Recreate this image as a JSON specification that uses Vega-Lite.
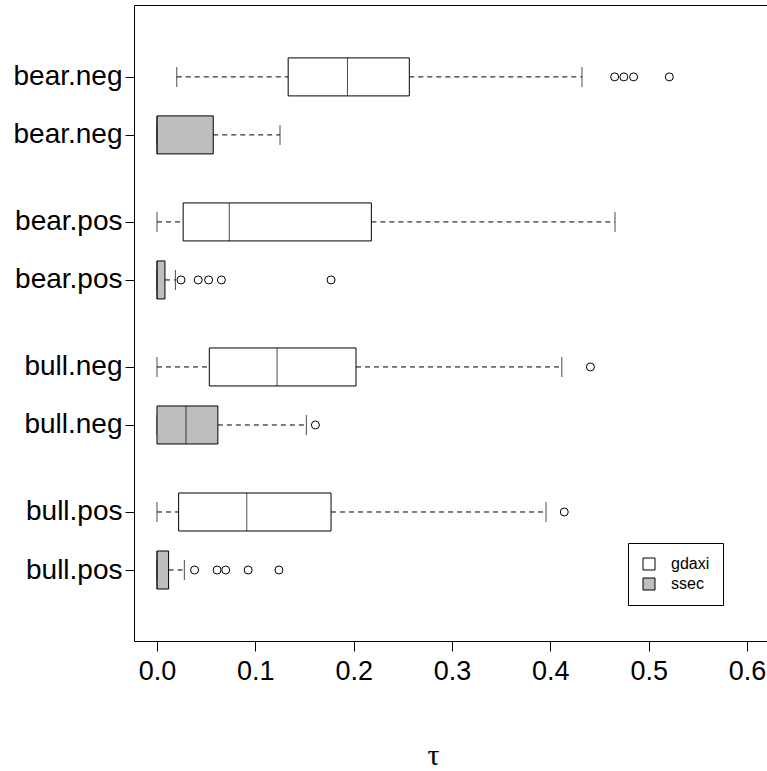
{
  "$schema": "https://vega.github.io/schema/vega-lite/v6.json",
  "autosize": "none",
  "padding": {"left": 134, "top": 5, "right": 0, "bottom": 130},
  "width": 634,
  "height": 636,
  "background": "white",
  "config": {
    "view": {"stroke": "black", "strokeWidth": 1, "fill": "white"},
    "font": "Liberation Sans",
    "axis": {"grid": false, "domain": false, "tickColor": "black", "tickSize": 10, "labelColor": "black", "labelFont": "Liberation Sans", "labelFontSize": 27}
  },
  "datasets": {
    "boxes": [
      {"group": "bear.neg", "series": "gdaxi", "at": 9.5, "lo": 0.0201, "q1": 0.1334, "med": 0.1937, "q3": 0.2566, "hi": 0.4322},
      {"group": "bear.neg", "series": "ssec", "at": 8.5, "lo": 0.0, "q1": 0.0, "med": 0.0, "q3": 0.0572, "hi": 0.1251},
      {"group": "bear.pos", "series": "gdaxi", "at": 7, "lo": 0.0, "q1": 0.0266, "med": 0.0735, "q3": 0.218, "hi": 0.4658},
      {"group": "bear.pos", "series": "ssec", "at": 6, "lo": 0.0, "q1": 0.0, "med": 0.0, "q3": 0.0081, "hi": 0.0187},
      {"group": "bull.neg", "series": "gdaxi", "at": 4.5, "lo": 0.0, "q1": 0.0532, "med": 0.1221, "q3": 0.2024, "hi": 0.4117},
      {"group": "bull.neg", "series": "ssec", "at": 3.5, "lo": 0.0, "q1": 0.0, "med": 0.0295, "q3": 0.0619, "hi": 0.1519},
      {"group": "bull.pos", "series": "gdaxi", "at": 2, "lo": 0.0, "q1": 0.022, "med": 0.0913, "q3": 0.177, "hi": 0.3956},
      {"group": "bull.pos", "series": "ssec", "at": 1, "lo": 0.0, "q1": 0.0, "med": 0.0, "q3": 0.0118, "hi": 0.0278}
    ],
    "outliers": [
      {"group": "bear.neg", "series": "gdaxi", "at": 9.5, "value": 0.4654},
      {"group": "bear.neg", "series": "gdaxi", "at": 9.5, "value": 0.4748},
      {"group": "bear.neg", "series": "gdaxi", "at": 9.5, "value": 0.4847},
      {"group": "bear.neg", "series": "gdaxi", "at": 9.5, "value": 0.521},
      {"group": "bear.pos", "series": "ssec", "at": 6, "value": 0.0244},
      {"group": "bear.pos", "series": "ssec", "at": 6, "value": 0.0419},
      {"group": "bear.pos", "series": "ssec", "at": 6, "value": 0.0525},
      {"group": "bear.pos", "series": "ssec", "at": 6, "value": 0.0655},
      {"group": "bear.pos", "series": "ssec", "at": 6, "value": 0.177},
      {"group": "bull.neg", "series": "gdaxi", "at": 4.5, "value": 0.4408},
      {"group": "bull.neg", "series": "ssec", "at": 3.5, "value": 0.1611},
      {"group": "bull.pos", "series": "gdaxi", "at": 2, "value": 0.4142},
      {"group": "bull.pos", "series": "ssec", "at": 1, "value": 0.0382},
      {"group": "bull.pos", "series": "ssec", "at": 1, "value": 0.0611},
      {"group": "bull.pos", "series": "ssec", "at": 1, "value": 0.0699},
      {"group": "bull.pos", "series": "ssec", "at": 1, "value": 0.0927},
      {"group": "bull.pos", "series": "ssec", "at": 1, "value": 0.124}
    ]
  },
  "encoding": {
    "y": {
      "field": "at", "type": "quantitative",
      "scale": {"domain": [-0.1374, 10.653], "nice": false, "zero": false},
      "axis": {
        "title": null,
        "values": [1, 2, 3.5, 4.5, 6, 7, 8.5, 9.5],
        "labelExpr": "datum.value > 8 ? 'bear.neg' : datum.value > 5.5 ? 'bear.pos' : datum.value > 3 ? 'bull.neg' : 'bull.pos'",
        "tickSize": 9,
        "labelPadding": 3,
        "labelFontSize": 28
      }
    }
  },
  "layer": [
    {
      "data": {"name": "boxes"},
      "mark": {"type": "rule", "stroke": "black", "strokeWidth": 1, "strokeDash": [5, 4]},
      "encoding": {
        "x": {
          "field": "lo", "type": "quantitative",
          "scale": {"domain": [-0.02339, 0.62138], "nice": false, "zero": false},
          "axis": {
            "title": "τ",
            "values": [0, 0.1, 0.2, 0.3, 0.4, 0.5, 0.6],
            "format": ".1f",
            "labelPadding": 7,
            "titleFont": "Liberation Serif",
            "titleFontSize": 30,
            "titleFontWeight": "normal",
            "titleColor": "black",
            "titleBaseline": "alphabetic",
            "titleAlign": "center",
            "titleX": 299,
            "titleY": 123
          }
        },
        "x2": {"field": "q1"}
      }
    },
    {
      "data": {"name": "boxes"},
      "mark": {"type": "rule", "stroke": "black", "strokeWidth": 1, "strokeDash": [5, 4]},
      "encoding": {
        "x": {"field": "q3", "type": "quantitative"},
        "x2": {"field": "hi"}
      }
    },
    {
      "data": {"name": "boxes"},
      "mark": {"type": "tick", "orient": "vertical", "color": "black", "size": 20, "thickness": 1},
      "encoding": {"x": {"field": "lo", "type": "quantitative"}}
    },
    {
      "data": {"name": "boxes"},
      "mark": {"type": "tick", "orient": "vertical", "color": "black", "size": 20, "thickness": 1},
      "encoding": {"x": {"field": "hi", "type": "quantitative"}}
    },
    {
      "data": {"name": "boxes"},
      "mark": {"type": "bar", "orient": "horizontal", "size": 38, "stroke": "black", "strokeWidth": 1, "opacity": 1},
      "encoding": {
        "x": {"field": "q1", "type": "quantitative"},
        "x2": {"field": "q3"},
        "color": {
          "field": "series", "type": "nominal",
          "scale": {"domain": ["gdaxi", "ssec"], "range": ["white", "#bebebe"]},
          "legend": {
            "title": null,
            "orient": "none",
            "legendX": 494,
            "legendY": 538,
            "strokeColor": "black",
            "fillColor": "white",
            "padding": 13,
            "cornerRadius": 0,
            "symbolType": "square",
            "symbolSize": 144,
            "symbolStrokeColor": "black",
            "symbolStrokeWidth": 1,
            "symbolOpacity": 1,
            "labelFont": "Liberation Sans",
            "labelFontSize": 16,
            "labelColor": "black",
            "labelOffset": 14,
            "rowPadding": 4
          }
        }
      }
    },
    {
      "data": {"name": "boxes"},
      "mark": {"type": "tick", "orient": "vertical", "color": "black", "size": 38, "thickness": 1},
      "encoding": {"x": {"field": "med", "type": "quantitative"}}
    },
    {
      "data": {"name": "outliers"},
      "mark": {"type": "point", "shape": "circle", "filled": false, "stroke": "black", "strokeWidth": 1, "size": 64, "opacity": 1},
      "encoding": {"x": {"field": "value", "type": "quantitative"}}
    }
  ]
}
